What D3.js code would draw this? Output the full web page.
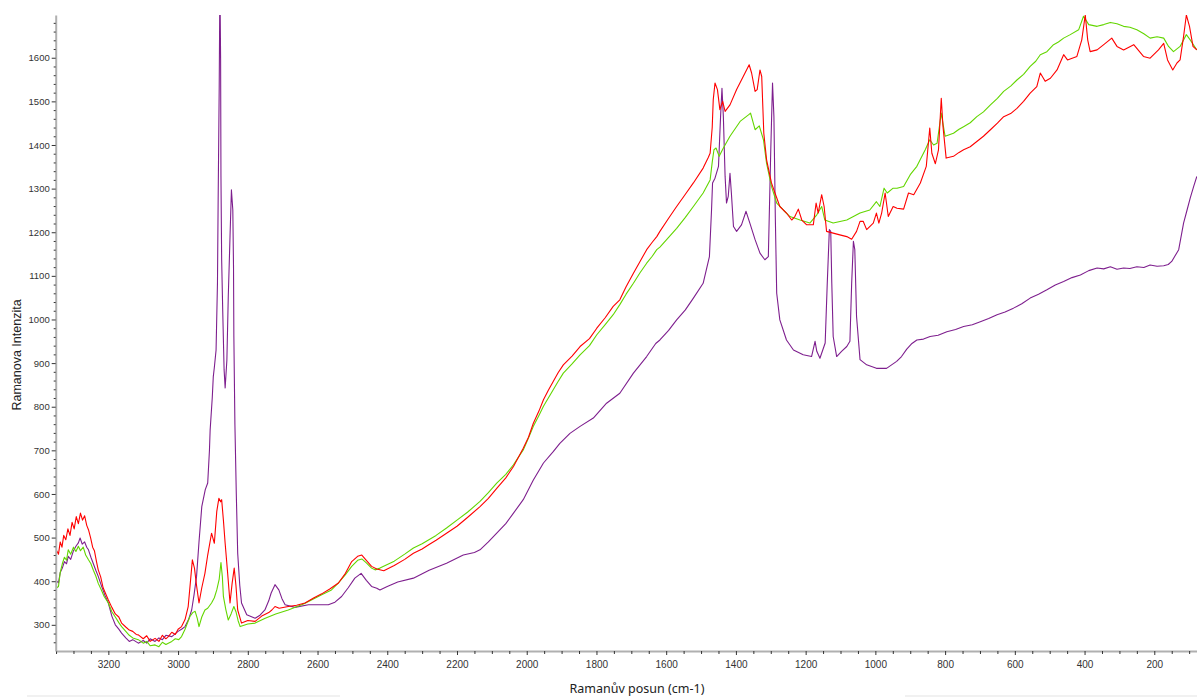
<!DOCTYPE html>
<html lang="cs">
<head>
  <meta charset="UTF-8">
  <title>Ramanova spektra</title>
  <script src="https://d3js.org/d3.v7.min.js"></script>
  <style>
    body { margin: 0; background: #fff; }
    .tick text { fill: #333; font-family: "Liberation Sans Narrow", "Liberation Sans", sans-serif; font-size: 10px; }
    .tick line { stroke: #333; }
    .domain { stroke: #b0b0b0; stroke-width: 2; }
    .spec { fill: none; stroke-width: 1.1; stroke-linejoin: round; }
  </style>
</head>
<body>
<script>
  // wavenumbers (cm-1) and intensities
  const redShift = [3348,3343,3338,3333,3328,3322,3316,3310,3304,3298,3292,3286,3280,3274,3268,3262,3257,3251,3245,3240,3234,3229,3222,3215,3208,3200,3190,3180,3170,3162,3150,3140,3130,3120,3114,3100,3090,3080,3066,3055,3045,3035,3028,3018,3008,3000,2990,2980,2971,2965,2959,2953,2947,2940,2932,2923,2915,2904,2896,2889,2883,2878,2875,2870,2865,2858,2851,2845,2839,2834,2829,2818,2800,2779,2760,2740,2731,2722,2710,2684,2660,2636,2610,2588,2565,2540,2520,2502,2485,2473,2460,2445,2430,2410,2380,2350,2325,2300,2280,2260,2230,2200,2170,2134,2110,2086,2060,2038,2010,1995,1981,1965,1952,1938,1924,1910,1895,1870,1847,1820,1799,1775,1752,1733,1715,1694,1675,1656,1640,1627,1618,1593,1570,1545,1522,1494,1480,1474,1468,1465,1460,1453,1446,1438,1431,1417,1398,1379,1367,1362,1355,1345,1339,1331,1326,1320,1312,1298,1288,1274,1255,1240,1231,1221,1211,1197,1178,1170,1164,1154,1147,1140,1121,1102,1082,1068,1054,1044,1035,1025,1006,997,990,982,972,963,949,938,919,905,890,871,854,844,838,828,819,811,806,797,776,760,747,728,709,690,670,650,632,612,594,575,556,537,527,513,498,479,460,449,422,408,398,391,384,364,345,322,307,288,259,231,212,188,173,162,147,135,126,116,108,99,89,78];
  const redInt = [470,462,490,478,505,495,520,505,535,520,548,532,556,540,550,528,518,500,478,470,445,426,410,385,372,357,340,325,318,304,295,288,285,278,277,268,275,262,269,262,276,268,273,283,278,290,296,312,342,395,449,430,390,350,385,418,460,510,487,560,590,582,587,540,487,420,350,395,430,390,334,304,310,308,320,328,334,342,338,342,345,350,362,371,382,396,418,445,457,460,448,434,428,424,436,450,464,474,484,494,510,526,546,571,590,613,637,663,705,730,762,790,816,838,858,878,896,916,938,956,980,1004,1030,1045,1075,1106,1133,1160,1177,1190,1202,1232,1259,1287,1313,1347,1370,1381,1440,1504,1542,1527,1481,1500,1477,1492,1527,1557,1576,1584,1565,1523,1527,1572,1557,1427,1366,1313,1290,1259,1244,1228,1236,1253,1228,1217,1217,1267,1244,1286,1259,1202,1198,1194,1190,1184,1202,1225,1225,1206,1221,1244,1221,1244,1290,1236,1259,1255,1253,1290,1286,1313,1351,1439,1381,1357,1389,1507,1442,1370,1374,1383,1389,1396,1408,1420,1435,1450,1465,1472,1484,1500,1519,1534,1565,1546,1553,1572,1607,1595,1603,1641,1698,1641,1614,1618,1630,1645,1626,1618,1630,1603,1599,1618,1633,1595,1572,1588,1595,1649,1698,1672,1626,1618];

  const greenShift = [3348,3343,3338,3332,3326,3320,3315,3308,3300,3293,3286,3280,3272,3265,3257,3250,3243,3236,3229,3220,3212,3200,3190,3180,3170,3162,3150,3140,3130,3114,3100,3090,3080,3066,3055,3045,3035,3028,3018,3008,2998,2990,2980,2966,2958,2951,2945,2940,2932,2923,2915,2904,2896,2889,2882,2877,2873,2870,2863,2856,2848,2840,2834,2828,2822,2800,2779,2750,2720,2684,2640,2588,2560,2540,2520,2502,2485,2473,2460,2445,2435,2421,2380,2350,2325,2300,2260,2230,2200,2170,2134,2110,2086,2060,2038,2010,1995,1981,1965,1952,1938,1924,1910,1895,1870,1847,1820,1799,1775,1752,1733,1715,1694,1675,1656,1640,1627,1618,1593,1570,1545,1522,1494,1474,1468,1463,1457,1448,1436,1417,1388,1364,1358,1345,1333,1321,1312,1298,1283,1264,1245,1216,1188,1168,1154,1145,1121,1082,1044,1016,997,987,975,966,949,938,919,900,881,857,844,833,823,811,800,776,760,747,728,709,690,670,650,632,612,594,575,556,540,527,508,489,475,460,441,417,403,388,364,345,326,307,288,270,250,230,212,192,173,159,145,126,108,97,78];
  const greenInt = [385,388,420,440,455,448,472,462,478,468,480,470,478,460,449,440,425,412,395,380,365,350,330,318,305,296,285,276,270,266,258,262,252,254,250,260,255,258,262,268,266,273,290,319,328,331,315,296,318,334,338,350,362,380,405,443,410,365,335,311,325,342,330,310,296,302,304,315,325,334,348,369,380,396,415,434,448,451,442,430,426,430,446,462,476,486,505,522,540,558,583,603,625,645,667,701,728,755,780,801,820,839,858,877,898,919,940,965,988,1011,1034,1058,1083,1107,1129,1145,1160,1166,1188,1209,1234,1259,1290,1320,1360,1389,1393,1374,1393,1420,1454,1469,1473,1435,1444,1412,1358,1305,1267,1251,1236,1228,1221,1240,1259,1228,1221,1228,1244,1251,1270,1259,1301,1290,1301,1301,1305,1332,1351,1389,1412,1400,1404,1473,1420,1427,1436,1442,1451,1465,1476,1492,1507,1523,1535,1549,1562,1580,1592,1607,1614,1630,1636,1645,1653,1664,1695,1676,1672,1676,1681,1678,1672,1670,1664,1655,1645,1648,1645,1626,1614,1626,1653,1641,1618];

  const purpleShift = [3348,3343,3338,3332,3326,3320,3315,3308,3300,3293,3286,3281,3275,3268,3262,3257,3250,3243,3236,3229,3220,3210,3200,3190,3180,3170,3162,3150,3140,3130,3114,3100,3090,3080,3066,3055,3045,3035,3018,3000,2990,2980,2970,2961,2954,2947,2940,2932,2922,2915,2910,2908,2902,2899,2896,2891,2887,2885,2882,2880,2878,2877,2875,2872,2868,2865,2860,2856,2851,2847,2843,2841,2840,2837,2833,2829,2823,2818,2803,2779,2765,2751,2740,2733,2722,2711,2702,2693,2665,2626,2569,2550,2531,2512,2493,2475,2460,2445,2430,2421,2400,2370,2325,2280,2230,2182,2150,2134,2110,2086,2060,2038,2010,1981,1952,1924,1905,1876,1847,1809,1771,1733,1694,1656,1630,1618,1593,1570,1545,1522,1494,1476,1470,1467,1460,1450,1444,1440,1436,1431,1427,1422,1417,1413,1407,1398,1384,1371,1360,1345,1331,1317,1307,1300,1295,1291,1287,1283,1274,1255,1235,1207,1183,1173,1168,1159,1144,1138,1132,1128,1125,1121,1111,1097,1082,1073,1068,1063,1059,1054,1044,1025,997,968,939,925,910,895,881,862,843,820,795,770,747,722,699,675,651,628,604,580,556,532,508,484,460,436,412,388,364,345,326,307,288,270,250,230,212,192,173,160,150,130,116,106,97,87,78];
  const purpleInt = [400,396,420,430,445,440,457,450,470,480,488,499,485,490,478,472,455,440,425,411,390,368,350,320,300,290,281,270,262,266,258,264,258,268,262,270,266,276,273,285,290,296,312,334,370,411,490,571,610,625,700,747,820,869,890,930,1084,1279,1534,1780,1595,1328,1137,1022,885,843,907,1053,1190,1297,1251,1121,961,760,600,464,390,350,323,315,322,334,355,373,392,380,360,346,340,346,346,352,365,385,407,418,402,388,384,380,388,398,407,425,441,460,466,472,490,510,532,556,587,632,671,697,716,739,755,774,808,831,877,915,945,953,975,999,1022,1049,1083,1144,1250,1313,1324,1351,1465,1530,1465,1328,1267,1282,1335,1290,1213,1202,1217,1248,1221,1183,1152,1137,1144,1389,1542,1465,1236,1060,999,953,930,919,915,950,927,911,946,1083,1206,1202,1083,961,915,927,938,950,1083,1179,1160,1007,908,896,888,888,904,915,932,945,953,955,961,964,972,977,984,988,995,1002,1011,1017,1026,1036,1049,1058,1068,1079,1087,1096,1102,1112,1118,1116,1121,1115,1118,1117,1121,1119,1125,1122,1123,1126,1133,1160,1221,1251,1278,1305,1328];

  const series = [
    {name: 'purple', color: '#7e1f8e', shift: purpleShift, val: purpleInt},
    {name: 'green', color: '#63d600', shift: greenShift, val: greenInt},
    {name: 'red', color: '#ff0000', shift: redShift, val: redInt}
  ];

  const xMajor = d3.range(3200, 199, -200);
  const xMinor = d3.range(3350, 99, -50).filter(v => v % 200 !== 0);
  const yMajor = d3.range(300, 1601, 100);
  const yMinor = d3.range(260, 1700, 20).filter(v => v % 100 !== 0);

  const W = 1197, H = 697;
  const plot = {left: 55.7, right: 1197, top: 15, bottom: 651};

  const svg = d3.select('body').append('svg')
    .attr('width', W)
    .attr('height', H);

  const x = d3.scaleLinear().domain([3351, 77.5]).range([plot.left, plot.right]);
  const y = d3.scaleLinear().domain([240, 1698]).range([plot.bottom, plot.top]);

  svg.append('clipPath').attr('id', 'clip')
    .append('rect')
    .attr('x', plot.left).attr('y', plot.top)
    .attr('width', plot.right - plot.left).attr('height', plot.bottom - plot.top);

  const line = d3.line()
    .x(d => x(d[0]))
    .y(d => y(d[1]));

  const lines = svg.append('g').attr('clip-path', 'url(#clip)');
  series.forEach(s => {
    lines.append('path')
      .attr('class', 'spec')
      .attr('stroke', s.color)
      .attr('d', line(s.shift.map((v, i) => [v, s.val[i]])));
  });

  const plain = d3.format('d');

  // x axis
  svg.append('g')
    .attr('transform', `translate(0,${plot.bottom})`)
    .call(d3.axisBottom(x).tickValues(xMinor).tickSize(3).tickFormat('').tickSizeOuter(0));
  const xa = svg.append('g')
    .attr('transform', `translate(0,${plot.bottom})`)
    .call(d3.axisBottom(x).tickValues(xMajor).tickFormat(plain).tickSize(4).tickPadding(6).tickSizeOuter(0));
  xa.select('.domain').remove();

  // y axis
  svg.append('g')
    .attr('transform', `translate(${plot.left},0)`)
    .call(d3.axisLeft(y).tickValues(yMinor).tickSize(2).tickFormat('').tickSizeOuter(0));
  const ya = svg.append('g')
    .attr('transform', `translate(${plot.left},0)`)
    .call(d3.axisLeft(y).tickValues(yMajor).tickFormat(plain).tickSize(4).tickPadding(2).tickSizeOuter(0));
  ya.select('.domain').remove();
  ya.selectAll('.tick text').style('font-size', '9.5px');

  // titles
  svg.append('text')
    .attr('transform', 'translate(21,355) rotate(-90)')
    .attr('text-anchor', 'middle')
    .style('font-family', '"Liberation Sans", Arial, sans-serif')
    .style('font-size', '12.5px')
    .style('fill', '#222')
    .text('Ramanova Intenzita');

  svg.append('text')
    .attr('x', 637)
    .attr('y', 693)
    .attr('text-anchor', 'middle')
    .style('font-family', '"Noto Sans", sans-serif')
    .style('font-size', '12.5px')
    .style('fill', '#222')
    .text('Ramanův posun (cm-1)');

  // faint separator lines along the bottom edge
  svg.append('line').attr('x1', 27).attr('x2', 340).attr('y1', 696).attr('y2', 696)
    .attr('stroke', '#e3e3e3');
  svg.append('line').attr('x1', 905).attr('x2', 1197).attr('y1', 696).attr('y2', 696)
    .attr('stroke', '#e3e3e3');
</script>
</body>
</html>
